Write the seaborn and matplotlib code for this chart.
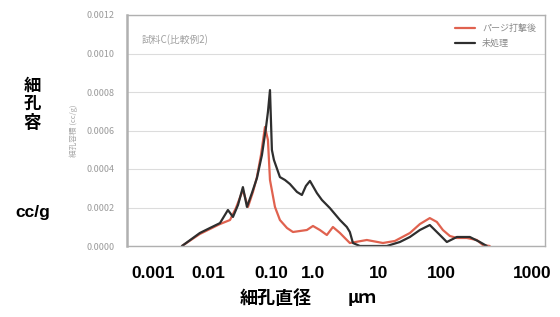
import matplotlib
matplotlib.use("Agg")
import matplotlib.pyplot as plt
import seaborn as sns
import pandas as pd

# pore diameter (um) and pore volume (cc/g)
black_d = [0.00615, 0.0111, 0.0155, 0.0216, 0.0281, 0.0332, 0.0392, 0.0461, 0.0527, 0.0621,
           0.0733, 0.0865, 0.0986, 0.1054, 0.1128, 0.1202, 0.1285, 0.1567, 0.185, 0.218,
           0.275, 0.324, 0.370, 0.423, 0.532, 0.628, 0.817, 1.14, 1.43, 1.58,
           1.75, 2.20, 5.37, 8.26, 11.5, 16.0, 22.2, 31.0, 39.0, 54.3,
           83.4, 116, 146]
black_v = [0.0, 0.0000675, 0.0000935, 0.000119, 0.000187, 0.000151, 0.000213, 0.000306, 0.000203, 0.000275,
           0.000353, 0.000473, 0.000613, 0.000696, 0.00081, 0.000499, 0.000447, 0.000358, 0.000343, 0.000322,
           0.000281, 0.000265, 0.000312, 0.000338, 0.000275, 0.000239, 0.000197, 0.000135, 0.0000987, 0.0000727,
           0.0000156, 0.0, 0.0, 0.0000208, 0.0000468, 0.0000831, 0.000109, 0.0000571, 0.0000208, 0.0000468,
           0.0000468, 0.0000208, 0.0]

red_d = [0.00615, 0.0111, 0.0155, 0.0216, 0.0301, 0.0366, 0.0461, 0.0545, 0.0643, 0.0733,
         0.0838, 0.0955, 0.1054, 0.1128, 0.133, 0.1567, 0.198, 0.241, 0.303, 0.382,
         0.467, 0.587, 0.739, 0.903, 1.14, 1.34, 1.58, 2.77, 4.71, 7.00,
         11.5, 16.0, 22.2, 28.0, 34.2, 43.1, 54.3, 75.5, 105, 128, 161]
red_v = [0.0, 0.0000623, 0.0000883, 0.000114, 0.000135, 0.000197, 0.000291, 0.000203, 0.000281, 0.000358,
         0.000473, 0.000618, 0.000551, 0.000343, 0.000203, 0.000135, 0.0000935, 0.0000727, 0.0000779, 0.0000831,
         0.000104, 0.0000831, 0.0000571, 0.0000987, 0.0000675, 0.0000416, 0.0000156, 0.0000312, 0.0000156, 0.000026,
         0.0000675, 0.000114, 0.000145, 0.000125, 0.0000831, 0.000052, 0.0000416, 0.0000416, 0.0000312, 0.0000052, 0.0]

series_names = ["パージ打撃後", "未処理"]
y_ticks = [0.0000, 0.0002, 0.0004, 0.0006, 0.0008, 0.0010, 0.0012]
outer_x_labels = ["0.001", "0.01", "0.10", "1.0", "10", "100", "1000"]
outer_x_pos = [153, 208, 271, 313, 379, 441, 532]

df = pd.concat([
    pd.DataFrame({"d": red_d, "v": red_v, "s": series_names[0]}),
    pd.DataFrame({"d": black_d, "v": black_v, "s": series_names[1]}),
])

sns.set_style("white")
plt.rcParams['font.family'] = ['Noto Sans CJK JP', 'DejaVu Sans']

W, H = 560, 317
fig = plt.figure(figsize=(5.6, 3.17), dpi=100)
ax = fig.add_axes([127 / W, 1 - 246 / H, 418 / W, 231 / H])

sns.lineplot(data=df, x="d", y="v", hue="s", sort=False, estimator=None,
             palette={series_names[0]: "#e0624f", series_names[1]: "#2e2e2e"},
             linewidth=1.6, ax=ax)
ax.set_xscale("log")
ax.set_xlim(0.001, 1000)
ax.set_ylim(0, 0.0012)
ax.set_yticks(y_ticks)
ax.set_yticklabels([f"{t:.4f}" for t in y_ticks], fontsize=6.5, color="#9a9a9a")
ax.set_xticks([])
ax.minorticks_off()
ax.tick_params(axis="y", length=0, pad=9)
ax.grid(axis="y", color="#dcdcdc", linewidth=0.8)
for side, sp in ax.spines.items():
    sp.set_color("#b0b0b0")
    sp.set_linewidth(1.0)
ax.spines["left"].set_linewidth(1.8)
ax.set_xlabel("")
ax.set_ylabel("細孔容積 (cc/g)", fontsize=5.5, color="#a8a8a8", labelpad=6)
ax.text(0.035, 0.88, "試料C(比較例2)", transform=ax.transAxes, fontsize=7, color="#a0a0a0")

leg = ax.legend(loc="upper right", frameon=False, fontsize=6.5, handlelength=2.2,
                labelspacing=0.6, borderaxespad=0.6)
for t in leg.get_texts():
    t.set_color("#8a8a8a")

# outer labels pasted around the scanned chart
bold = dict(fontweight="bold", color="black")
fig.text(32 / W, 1 - 104 / H, "細\n孔\n容", ha="center", va="center", fontsize=12.5,
         linespacing=1.05, **bold)
fig.text(33 / W, 1 - 212 / H, "cc/g", ha="center", va="center", fontsize=12.5,
         family="Liberation Sans", **bold)
for lab, px in zip(outer_x_labels, outer_x_pos):
    fig.text(px / W, 1 - 273 / H, lab, ha="center", va="center", fontsize=12.5,
             family="Liberation Sans", **bold)
fig.text(276 / W, 1 - 298 / H, "細孔直径", ha="center", va="center", fontsize=13, **bold)
fig.text(362 / W, 1 - 298 / H, "μｍ", ha="center", va="center", fontsize=12.5, **bold)

fig.savefig("out.png", dpi=100)
